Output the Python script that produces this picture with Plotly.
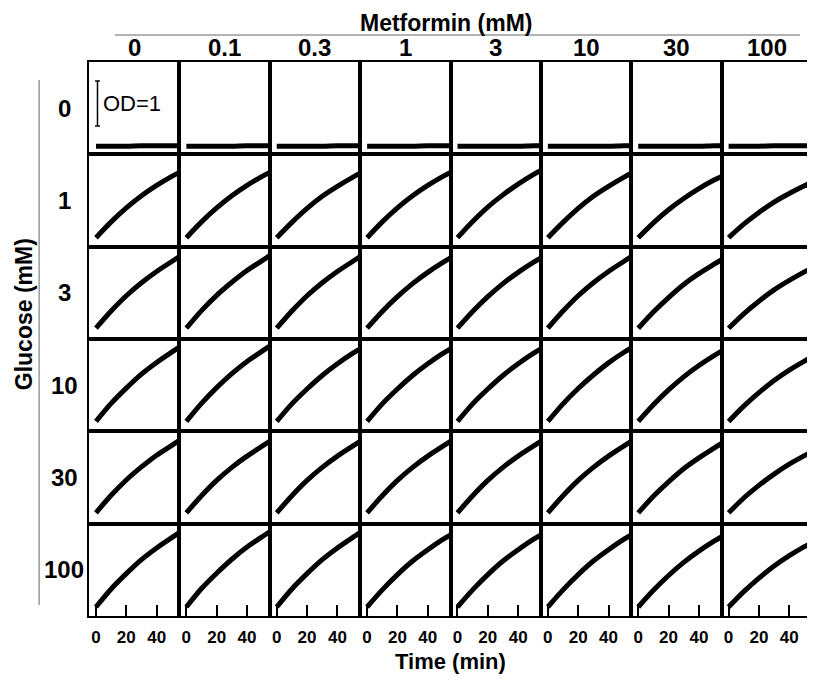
import plotly.graph_objects as go
from plotly.subplots import make_subplots

# ---------------- data ----------------
metformin_labels = ["0", "0.1", "0.3", "1", "3", "10", "30", "100"]
glucose_labels = ["0", "1", "3", "10", "30", "100"]
time_min = [0, 10, 20, 30, 40, 50, 55]
x_ticks = [0, 20, 40]

# OD readings per panel (rows = glucose, inner lists = metformin columns)
od_glc0 = [
    [0.00, 0.00, 0.00, 0.01, 0.01, 0.01, 0.01],
    [0.00, 0.00, 0.00, 0.00, 0.01, 0.01, 0.01],
    [0.00, 0.00, 0.00, 0.00, 0.01, 0.01, 0.01],
    [0.00, 0.00, 0.00, 0.00, 0.01, 0.01, 0.01],
    [0.00, 0.00, 0.00, 0.00, 0.00, 0.01, 0.01],
    [0.00, 0.00, 0.00, 0.00, 0.00, 0.01, 0.01],
    [0.00, 0.00, 0.00, 0.00, 0.00, 0.01, 0.01],
    [0.00, 0.00, 0.00, 0.01, 0.01, 0.01, 0.02],
]
od_glc1 = [
    [0.02, 0.37, 0.68, 0.95, 1.18, 1.38, 1.47],
    [0.02, 0.37, 0.68, 0.95, 1.18, 1.38, 1.47],
    [0.02, 0.36, 0.67, 0.94, 1.16, 1.36, 1.45],
    [0.02, 0.37, 0.68, 0.95, 1.18, 1.38, 1.47],
    [0.02, 0.38, 0.70, 0.97, 1.21, 1.42, 1.51],
    [0.02, 0.36, 0.67, 0.94, 1.16, 1.36, 1.45],
    [0.02, 0.35, 0.64, 0.89, 1.11, 1.30, 1.38],
    [0.02, 0.32, 0.58, 0.81, 1.00, 1.17, 1.25],
]
od_glc3 = [
    [0.06, 0.44, 0.78, 1.07, 1.32, 1.54, 1.65],
    [0.06, 0.45, 0.79, 1.08, 1.34, 1.56, 1.67],
    [0.06, 0.44, 0.78, 1.07, 1.32, 1.54, 1.65],
    [0.06, 0.43, 0.76, 1.05, 1.30, 1.52, 1.62],
    [0.06, 0.43, 0.76, 1.05, 1.30, 1.52, 1.62],
    [0.06, 0.44, 0.78, 1.07, 1.32, 1.54, 1.65],
    [0.06, 0.42, 0.74, 1.03, 1.27, 1.48, 1.58],
    [0.06, 0.38, 0.66, 0.91, 1.12, 1.31, 1.40],
]
od_glc10 = [
    [0.04, 0.44, 0.78, 1.09, 1.35, 1.58, 1.69],
    [0.04, 0.44, 0.79, 1.10, 1.37, 1.60, 1.71],
    [0.04, 0.43, 0.76, 1.06, 1.32, 1.55, 1.65],
    [0.04, 0.43, 0.76, 1.06, 1.32, 1.55, 1.65],
    [0.04, 0.43, 0.76, 1.06, 1.32, 1.55, 1.65],
    [0.04, 0.43, 0.77, 1.07, 1.34, 1.57, 1.67],
    [0.04, 0.41, 0.74, 1.03, 1.28, 1.50, 1.60],
    [0.04, 0.38, 0.68, 0.95, 1.18, 1.38, 1.47],
]
od_glc30 = [
    [0.06, 0.45, 0.79, 1.08, 1.34, 1.56, 1.67],
    [0.06, 0.44, 0.78, 1.07, 1.32, 1.54, 1.65],
    [0.06, 0.44, 0.78, 1.07, 1.32, 1.54, 1.65],
    [0.06, 0.44, 0.78, 1.07, 1.32, 1.54, 1.65],
    [0.06, 0.44, 0.78, 1.07, 1.32, 1.54, 1.65],
    [0.06, 0.44, 0.78, 1.07, 1.32, 1.54, 1.65],
    [0.06, 0.43, 0.75, 1.04, 1.28, 1.50, 1.60],
    [0.06, 0.39, 0.67, 0.92, 1.14, 1.33, 1.42],
]
od_glc100 = [
    [0.02, 0.42, 0.76, 1.07, 1.33, 1.56, 1.67],
    [0.02, 0.43, 0.77, 1.08, 1.35, 1.58, 1.69],
    [0.02, 0.42, 0.76, 1.07, 1.33, 1.56, 1.67],
    [0.02, 0.40, 0.74, 1.04, 1.29, 1.52, 1.62],
    [0.02, 0.40, 0.74, 1.04, 1.29, 1.52, 1.62],
    [0.02, 0.40, 0.74, 1.04, 1.29, 1.52, 1.62],
    [0.02, 0.39, 0.72, 1.01, 1.26, 1.48, 1.58],
    [0.02, 0.36, 0.66, 0.93, 1.16, 1.36, 1.45],
]
od_rows = [od_glc0, od_glc1, od_glc3, od_glc10, od_glc30, od_glc100]

# scale bar (OD = 1) in the top-left panel
scale_bar_t = 1.0
scale_bar_od = [0.45, 1.45]

# ---------------- figure ----------------
OFF = 8  # page body margin
W, H = 807, 675
L, R, T, B = 81, 1, 54, 67
PW, PH = W - L - R, H - T - B
FONT = "Liberation Sans, Arial, sans-serif"


def px(xs):
    return (xs - OFF - L) / PW


def py(ys):
    return (H - B - (ys - OFF)) / PH


nrows, ncols = len(glucose_labels), len(metformin_labels)
fig = make_subplots(rows=nrows, cols=ncols, horizontal_spacing=0, vertical_spacing=0)

for r in range(nrows):
    for c in range(ncols):
        fig.add_trace(
            go.Scatter(
                x=time_min, y=od_rows[r][c], mode="lines",
                line=dict(color="black", width=5, shape="spline", smoothing=0.8),
                hoverinfo="skip", showlegend=False,
            ),
            row=r + 1, col=c + 1,
        )
        last = r == nrows - 1
        fig.update_xaxes(
            range=[-4.6, 55], showline=True, mirror=True, linecolor="black", linewidth=1.5,
            showgrid=False, zeroline=False,
            tickmode="array", tickvals=x_ticks, ticktext=[str(v) for v in x_ticks],
            ticks="inside" if last else "", ticklen=11, tickwidth=1.8, tickcolor="black",
            showticklabels=last, ticklabelstandoff=5,
            tickfont=dict(family=FONT, size=17, color="black", weight="bold"),
            row=r + 1, col=c + 1,
        )
        fig.update_yaxes(
            range=[-0.18, 1.87], showline=True, mirror=True, linecolor="black", linewidth=1.5,
            showgrid=False, zeroline=False, showticklabels=False, ticks="",
            row=r + 1, col=c + 1,
        )

# scale bar in top-left panel
cap = 1.6
for (x0, y0, x1, y1) in [
    (scale_bar_t, scale_bar_od[0], scale_bar_t, scale_bar_od[1]),
    (scale_bar_t - cap, scale_bar_od[0], scale_bar_t + cap, scale_bar_od[0]),
    (scale_bar_t - cap, scale_bar_od[1], scale_bar_t + cap, scale_bar_od[1]),
]:
    fig.add_shape(type="line", xref="x", yref="y", x0=x0, y0=y0, x1=x1, y1=y1,
                  line=dict(color="black", width=1.5))
fig.add_annotation(xref="x", yref="y", x=scale_bar_t + 2.6, y=sum(scale_bar_od) / 2,
                   text="OD=1", showarrow=False, xanchor="left", yanchor="middle",
                   font=dict(family=FONT, size=22, color="black"))

# column labels (metformin)
for c, lab in enumerate(metformin_labels):
    fig.add_annotation(xref="paper", yref="paper", x=(c + 0.5) / ncols, y=py(47),
                       text=lab, showarrow=False, xanchor="center", yanchor="middle",
                       font=dict(family=FONT, size=24, color="black", weight="bold"))
# row labels (glucose)
for r, lab in enumerate(glucose_labels):
    fig.add_annotation(xref="paper", yref="paper", x=px(64), y=1 - (r + 0.5) / nrows,
                       text=lab, showarrow=False, xanchor="center", yanchor="middle",
                       font=dict(family=FONT, size=24, color="black", weight="bold"))

# titles
fig.add_annotation(xref="paper", yref="paper", x=px(447), y=py(OFF), text="Metformin (mM)",
                   showarrow=False, xanchor="center", yanchor="top",
                   font=dict(family=FONT, size=23, color="black", weight="bold"))
fig.add_annotation(xref="paper", yref="paper", x=px(OFF + 1), y=py(314), text="Glucose (mM)",
                   showarrow=False, textangle=-90, xanchor="left", yanchor="middle",
                   font=dict(family=FONT, size=23, color="black", weight="bold"))
fig.add_annotation(xref="paper", yref="paper", x=px(451), y=py(661), text="Time (min)",
                   showarrow=False, xanchor="center", yanchor="middle",
                   font=dict(family=FONT, size=22, color="black", weight="bold"))

# gray bracket lines
fig.add_shape(type="line", xref="paper", yref="paper", x0=px(115), x1=px(802), y0=py(35), y1=py(35),
              line=dict(color="#9a9a9a", width=1.5))
fig.add_shape(type="line", xref="paper", yref="paper", x0=px(39), x1=px(39), y0=py(80), y1=py(605),
              line=dict(color="#9a9a9a", width=1.5))

fig.update_layout(
    width=W, height=H, margin=dict(l=L, r=R, t=T, b=B),
    paper_bgcolor="white", plot_bgcolor="white", showlegend=False,
)

fig.write_html("out.html")
